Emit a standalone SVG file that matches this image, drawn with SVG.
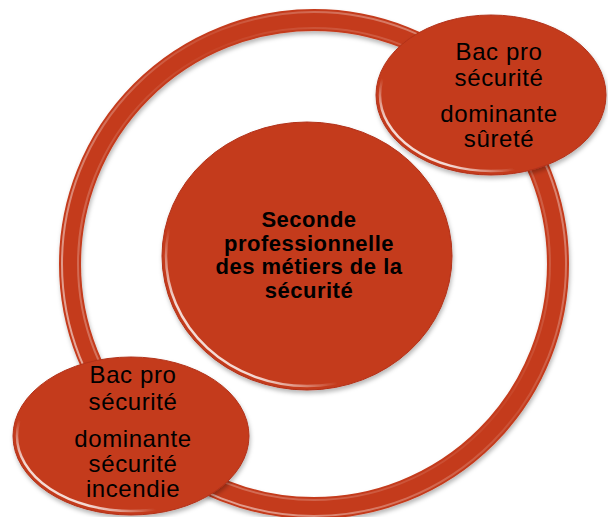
<svg xmlns="http://www.w3.org/2000/svg" width="608" height="517" viewBox="0 0 608 517">
  <defs>
    <filter id="shadow" x="-10%" y="-10%" width="125%" height="125%">
      <feOffset in="SourceAlpha" dx="1" dy="3" result="o"/>
      <feGaussianBlur in="o" stdDeviation="2" result="ob"/>
      <feFlood flood-color="#000" flood-opacity="0.28"/>
      <feComposite in2="ob" operator="in" result="sh"/>
      <feMerge>
        <feMergeNode in="sh"/>
        <feMergeNode in="SourceGraphic"/>
      </feMerge>
    </filter>
    <filter id="soft" x="-5%" y="-5%" width="110%" height="110%">
      <feGaussianBlur stdDeviation="0.6"/>
    </filter>
    <linearGradient id="hl" x1="0" y1="1" x2="0.5" y2="0.5">
      <stop offset="0" stop-color="#fff" stop-opacity="0.9"/>
      <stop offset="0.35" stop-color="#fff" stop-opacity="0.8"/>
      <stop offset="0.62" stop-color="#fff" stop-opacity="0"/>
      <stop offset="1" stop-color="#fff" stop-opacity="0"/>
    </linearGradient>
    <linearGradient id="hlring" x1="0" y1="0.9" x2="1" y2="0.1">
      <stop offset="0" stop-color="#fff" stop-opacity="0.7"/>
      <stop offset="0.4" stop-color="#fff" stop-opacity="0.25"/>
      <stop offset="0.6" stop-color="#fff" stop-opacity="0.1"/>
      <stop offset="1" stop-color="#fff" stop-opacity="0.5"/>
    </linearGradient>
    <style>
      .shape { fill: #C43A1B; stroke: #B2321A; stroke-width: 1; }
      .hl { fill: none; stroke: url(#hl); stroke-width: 2.5; filter: url(#soft); }
      .ring { fill: none; stroke: #C43A1B; stroke-width: 22; }
      .ringhl { fill: none; stroke: url(#hlring); stroke-width: 2; filter: url(#soft); }
      .lbl { font-family: "Liberation Sans", Arial, sans-serif; font-size: 24px; fill: #000; text-anchor: middle; letter-spacing: 0.6px; }
      .bold { font-weight: bold; font-size: 22px; letter-spacing: 0.5px; }
    </style>
  </defs>

  <g id="connectors">
    <g filter="url(#shadow)">
      <circle class="ring" cx="314" cy="264" r="244"/>
    </g>
    <circle class="ringhl" cx="314" cy="264" r="252"/>
    <circle class="ringhl" cx="314" cy="264" r="236" opacity="0.5"/>
  </g>

  <g id="node-center">
    <ellipse class="shape" cx="307" cy="256" rx="145" ry="134" filter="url(#shadow)"/>
    <ellipse class="hl" cx="307" cy="256" rx="141" ry="130"/>
    <text class="lbl bold" x="309" y="227">Seconde</text>
    <text class="lbl bold" x="309" y="251">professionnelle</text>
    <text class="lbl bold" x="309" y="274">des métiers de la</text>
    <text class="lbl bold" x="309" y="298">sécurité</text>
  </g>

  <g id="node-surete">
    <ellipse class="shape" cx="491" cy="95" rx="115" ry="80" filter="url(#shadow)"/>
    <ellipse class="hl" cx="491" cy="95" rx="111" ry="76"/>
    <text class="lbl" x="499" y="60">Bac pro</text>
    <text class="lbl" x="499" y="86">sécurité</text>
    <text class="lbl" x="499" y="122">dominante</text>
    <text class="lbl" x="499" y="147">sûreté</text>
  </g>

  <g id="node-incendie">
    <ellipse class="shape" cx="131" cy="436" rx="118" ry="79" filter="url(#shadow)"/>
    <ellipse class="hl" cx="131" cy="436" rx="114" ry="75"/>
    <text class="lbl" x="133" y="383">Bac pro</text>
    <text class="lbl" x="133" y="410">sécurité</text>
    <text class="lbl" x="133" y="447">dominante</text>
    <text class="lbl" x="133" y="472">sécurité</text>
    <text class="lbl" x="133" y="497">incendie</text>
  </g>
</svg>
